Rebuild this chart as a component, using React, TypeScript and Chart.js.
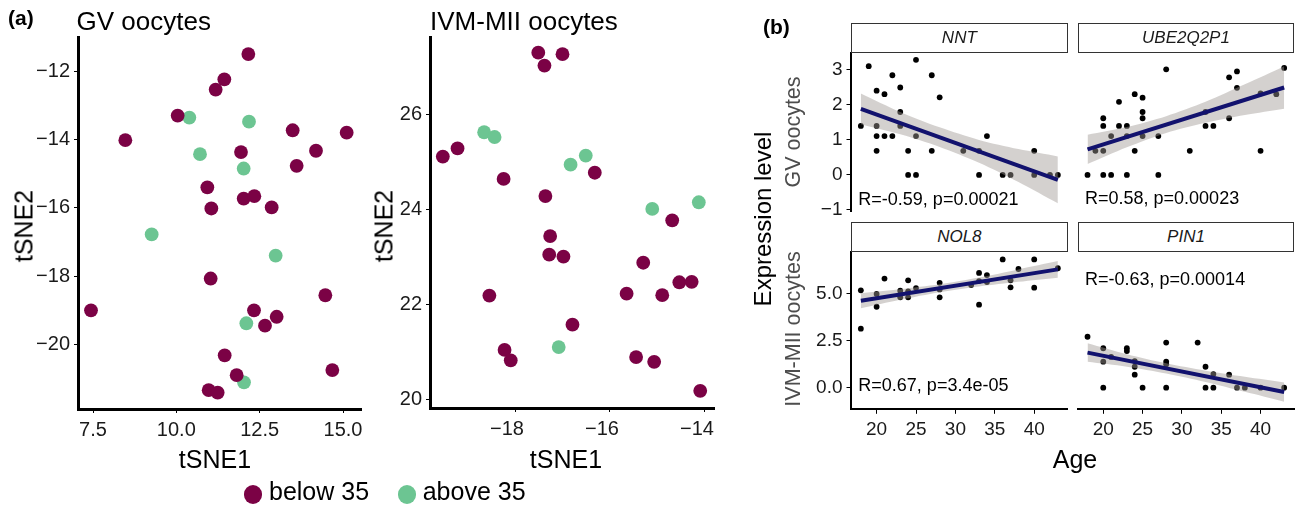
import React, { useEffect, useRef } from "react";
import { Chart, registerables } from "chart.js";
Chart.register(...registerables);

const W = 1298;
const H = 509;
const FONT = '"Liberation Sans", Arial, Helvetica, sans-serif';
const PURPLE = "#7B0245";
const GREEN = "#6CC592";
const NAVY = "#12126E";
const BAND = "rgba(160,152,148,0.45)";

// ---------- (a) tSNE data ----------
const gvBelowX = [12.16, 11.44, 11.18, 10.04, 13.49, 15.11, 8.47, 11.94, 14.19, 13.61, 10.93, 12.02, 12.34, 11.05, 12.86, 11.03, 7.44, 14.47, 12.33, 13.01, 12.66, 11.45, 14.68, 11.81, 10.97, 11.24];
const gvBelowY = [-11.5, -12.24, -12.54, -13.3, -13.73, -13.8, -14.02, -14.37, -14.33, -14.77, -15.4, -15.73, -15.66, -16.02, -15.99, -18.07, -19.0, -18.56, -19.0, -19.19, -19.45, -20.32, -20.75, -20.9, -21.34, -21.41];
const gvAboveX = [10.39, 12.18, 10.71, 12.02, 9.26, 12.98, 12.1, 12.03];
const gvAboveY = [-13.36, -13.48, -14.43, -14.85, -16.78, -17.4, -19.38, -21.11];

const ivmBelowX = [-17.51, -17.38, -17.0, -19.52, -19.21, -16.32, -18.24, -17.36, -14.69, -17.26, -17.28, -16.98, -15.3, -14.54, -14.28, -15.65, -14.9, -18.54, -16.79, -18.22, -18.09, -15.45, -15.07, -14.1];
const ivmBelowY = [27.29, 27.02, 27.26, 25.11, 25.28, 24.77, 24.64, 24.28, 23.77, 23.44, 23.05, 23.01, 22.88, 22.47, 22.48, 22.23, 22.2, 22.19, 21.58, 21.05, 20.83, 20.9, 20.8, 20.19];
const ivmAboveX = [-18.65, -18.43, -16.51, -16.83, -15.11, -14.13, -17.08];
const ivmAboveY = [25.62, 25.52, 25.13, 24.94, 24.01, 24.15, 21.11];

const gvXTicks = [7.5, 10, 12.5, 15];
const gvYTicks = [-20, -18, -16, -14, -12];
const ivmXTicks = [-18, -16, -14];
const ivmYTicks = [20, 22, 24, 26];

// ---------- (b) expression vs age ----------
const nntAge = [18, 19, 20, 20, 20, 20, 21, 21, 22, 22, 23, 23, 23, 24, 24, 25, 25, 25, 27, 27, 28, 31, 33, 33, 34, 36, 37, 40, 40, 42, 43];
const nntExpr = [1.4, 3.11, 2.41, 1.4, 1.11, 0.69, 2.31, 1.11, 2.85, 1.11, 2.5, 1.8, 1.4, 0.69, 0, 0, 3.29, 1.11, 2.85, 0.69, 2.22, 0.69, 0.69, 0, 1.11, 0, 0, 0.69, 0, 0, 0];

const ubeAge = [18, 19, 20, 20, 20, 20, 21, 21, 22, 22, 23, 23, 23, 24, 24, 25, 25, 25, 25, 27, 27, 28, 31, 33, 33, 34, 36, 36, 37, 37, 40, 40, 42, 43];
const ubeExpr = [0, 0.69, 1.62, 1.4, 0.69, 0, 1.11, 0, 2.09, 1.4, 1.4, 1.11, 0, 2.31, 0.69, 2.21, 1.8, 1.62, 1.11, 1.11, 0, 3.02, 0.69, 1.8, 1.4, 1.4, 2.79, 1.62, 2.96, 2.49, 2.33, 0.69, 2.31, 3.06];

const nolAge = [18, 18, 20, 20, 21, 23, 23, 24, 24, 24, 25, 28, 28, 28, 32, 33, 33, 33, 34, 34, 36, 37, 37, 38, 40, 40, 43];
const nolExpr = [5.16, 3.13, 4.97, 4.29, 5.78, 5.14, 4.79, 5.69, 4.79, 5.1, 5.28, 5.56, 5.21, 4.79, 5.44, 6.08, 4.4, 5.65, 5.97, 5.6, 6.8, 5.69, 5.32, 6.29, 6.8, 5.3, 6.33];

const pinAge = [18, 20, 20, 20, 21, 23, 23, 24, 24, 24, 25, 28, 28, 28, 28, 32, 33, 33, 34, 34, 36, 37, 38, 40, 43];
const pinExpr = [2.7, 2.09, 1.38, 0, 1.63, 2.09, 1.94, 1.41, 1.11, 0.69, 0, 2.39, 1.38, 1.24, 0, 2.39, 1.11, 0, 0.72, 0, 0.69, 0, 0, 0, 0];

const fitAges = [18, 43];
const nntFit = [1.89, -0.14];
const ubeFit = [0.73, 2.5];
const nolFit = [4.61, 6.27];
const pinFit = [1.86, -0.23];

const bandAges = [18, 23, 28, 33, 38, 43];
const nntLower = [1.45, 1.16, 0.8, 0.35, -0.2, -0.81];
const nntUpper = [2.33, 1.8, 1.36, 1.0, 0.74, 0.53];
const ubeLower = [0.31, 0.79, 1.2, 1.49, 1.71, 1.89];
const ubeUpper = [1.15, 1.37, 1.68, 2.09, 2.59, 3.11];
const nolLower = [4.21, 4.66, 5.06, 5.36, 5.61, 5.83];
const nolUpper = [5.01, 5.22, 5.48, 5.84, 6.27, 6.71];
const pinLower = [1.37, 1.11, 0.75, 0.3, -0.22, -0.74];
const pinUpper = [2.35, 1.77, 1.29, 0.9, 0.58, 0.28];

const ageTicks = [20, 25, 30, 35, 40];
const gvExprTicks = [-1, 0, 1, 2, 3];
const ivmExprTicks = [0, 2.5, 5];

const nntCor = "R=-0.59, p=0.00021";
const ubeCor = "R=0.58, p=0.00023";
const nolCor = "R=0.67, p=3.4e-05";
const pinCor = "R=-0.63, p=0.00014";

// ---------- helpers ----------
const pts = (xs: number[], ys: number[]) => xs.map((x, i) => ({ x, y: ys[i] }));
const minus = (s: string) => s.replace("-", "\u2212");
const fmtInt = (v: number) => minus(String(Math.round(v)));
const fmt1 = (v: number) => minus(v.toFixed(1));

type AxisSpec = {
  min: number; max: number; ticks: number[]; show: boolean; fmt: (v: number) => string;
  size: number; lw: number; tickLen: number; pad: number; fixed: number; labelOffset?: number;
};
type Area = { left: number; top: number; right: number; bottom: number };
type Label = { x: number; y: number; text: string; size: number };

function scaleOpts(a: AxisSpec) {
  return {
    type: "linear",
    min: a.min,
    max: a.max,
    display: a.show,
    afterBuildTicks: (s: any) => { s.ticks = a.ticks.map((v) => ({ value: v })); },
    afterFit: (s: any) => {
      if (!a.show) return;
      if (s.isHorizontal()) s.height = a.fixed; else s.width = a.fixed;
    },
    grid: { display: true, drawOnChartArea: false, drawTicks: true, tickLength: a.tickLen, tickWidth: 1, tickColor: "#000", color: "#000" },
    border: { display: true, color: "#000", width: a.lw },
    ticks: {
      autoSkip: false, maxRotation: 0, minRotation: 0, padding: a.pad, labelOffset: a.labelOffset ?? 0,
      color: "#1a1a1a", font: { family: FONT, size: a.size },
      callback: (v: any) => a.fmt(Number(v)),
    },
  };
}

function labelPlugin(labels: Label[]) {
  return {
    id: "corLabels",
    afterDatasetsDraw(chart: any) {
      const ctx = chart.ctx;
      const xs = chart.scales.x, ys = chart.scales.y;
      ctx.save();
      for (const l of labels) {
        ctx.font = `${l.size}px ${FONT}`;
        ctx.fillStyle = "#000";
        ctx.textAlign = "left";
        ctx.textBaseline = "alphabetic";
        ctx.fillText(l.text, xs.getPixelForValue(l.x), ys.getPixelForValue(l.y) + 0.358 * l.size);
      }
      ctx.restore();
    },
  };
}

type PanelProps = { area: Area; x: AxisSpec; y: AxisSpec; datasets: any[]; labels?: Label[] };

function Panel({ area, x, y, datasets, labels }: PanelProps) {
  const ref = useRef<HTMLCanvasElement | null>(null);
  useEffect(() => {
    if (!ref.current) return;
    const yW = y.show ? y.fixed : 0;
    const xH = x.show ? x.fixed : 0;
    const chart = new Chart(ref.current, {
      type: "scatter",
      data: { datasets },
      options: {
        animation: false,
        responsive: false,
        events: [],
        layout: { padding: { left: area.left - yW, top: area.top, right: W - area.right, bottom: H - area.bottom - xH } },
        plugins: { legend: { display: false }, tooltip: { enabled: false }, title: { display: false } },
        scales: { x: scaleOpts(x) as any, y: scaleOpts(y) as any },
      },
      plugins: labels ? [labelPlugin(labels)] : [],
    } as any);
    return () => chart.destroy();
  }, []);
  return (
    <canvas ref={ref} width={W} height={H}
      style={{ position: "absolute", left: 0, top: 0, width: W, height: H, pointerEvents: "none" }} />
  );
}

function tsneSets(bx: number[], by: number[], ax: number[], ay: number[]) {
  return [
    { data: pts(bx, by), backgroundColor: PURPLE, pointRadius: 6.9, pointBorderWidth: 0, order: 0, clip: false },
    { data: pts(ax, ay), backgroundColor: GREEN, pointRadius: 6.9, pointBorderWidth: 0, order: 1, clip: false },
  ];
}

function exprSets(age: number[], expr: number[], lower: number[], upper: number[], fit: number[]) {
  return [
    { data: pts(age, expr), backgroundColor: "#000", pointRadius: 2.9, pointBorderWidth: 0, order: 3, clip: false },
    { type: "line", data: pts(bandAges, lower), borderWidth: 0, pointRadius: 0, fill: false, tension: 0.3, order: 2 },
    { type: "line", data: pts(bandAges, upper), borderWidth: 0, pointRadius: 0, fill: "-1", backgroundColor: BAND, tension: 0.3, order: 1 },
    { type: "line", data: pts(fitAges, fit), borderColor: NAVY, borderWidth: 4, pointRadius: 0, fill: false, order: 0, borderCapStyle: "butt" },
  ];
}

function Txt({ x, y, size, children, rotate, bold, italic, color, anchor }: any) {
  if (rotate) {
    return (
      <div style={{
        position: "absolute", left: x, top: y, transform: "translate(-50%,-50%) rotate(-90deg)",
        fontFamily: FONT, fontSize: size, lineHeight: 1, whiteSpace: "nowrap", color: color || "#000",
      }}>{children}</div>
    );
  }
  const top = y - 0.8465 * size;
  const tr = anchor === "middle" ? "translateX(-50%)" : "none";
  return (
    <div style={{
      position: "absolute", left: x, top, transform: tr, fontFamily: FONT, fontSize: size, lineHeight: 1,
      whiteSpace: "nowrap", color: color || "#000", fontWeight: bold ? "bold" : "normal", fontStyle: italic ? "italic" : "normal",
    }}>{children}</div>
  );
}

function Strip({ left, top, right, bottom, text }: any) {
  return (
    <div style={{
      position: "absolute", left, top, width: right - left, height: bottom - top, boxSizing: "border-box",
      border: "1px solid #333", background: "#fff", display: "flex", alignItems: "center", justifyContent: "center",
      fontFamily: FONT, fontSize: 17, fontStyle: "italic", color: "#1a1a1a",
    }}>{text}</div>
  );
}

export default function App() {
  const common = { lw: 3, tickLen: 4 };
  const bAxis = { lw: 2, tickLen: 4.5 };
  return (
    <div style={{ position: "absolute", left: 0, top: 0, width: W, height: H, background: "#fff", overflow: "hidden" }}>
      {/* (a) GV tSNE */}
      <Panel
        area={{ left: 78, top: 37, right: 361, bottom: 409 }}
        x={{ min: 7.05, max: 15.54, ticks: gvXTicks, show: true, fmt: fmt1, size: 20, pad: 5, fixed: 40, ...common }}
        y={{ min: -21.89, max: -11.0, ticks: gvYTicks, show: true, fmt: fmtInt, size: 20, pad: 4, fixed: 78, ...common }}
        datasets={tsneSets(gvBelowX, gvBelowY, gvAboveX, gvAboveY)}
      />
      {/* (a) IVM tSNE */}
      <Panel
        area={{ left: 430, top: 37, right: 714, bottom: 408 }}
        x={{ min: -19.79, max: -13.81, ticks: ivmXTicks, show: true, fmt: fmtInt, size: 20, pad: 5, fixed: 40, labelOffset: -8, ...common }}
        y={{ min: 19.83, max: 27.62, ticks: ivmYTicks, show: true, fmt: fmtInt, size: 20, pad: 4, fixed: 50, ...common }}
        datasets={tsneSets(ivmBelowX, ivmBelowY, ivmAboveX, ivmAboveY)}
      />
      {/* (b) NNT */}
      <Panel
        area={{ left: 851, top: 52.7, right: 1067.7, bottom: 211 }}
        x={{ min: 16.75, max: 44.25, ticks: ageTicks, show: false, fmt: fmtInt, size: 19, pad: 5, fixed: 40, ...bAxis }}
        y={{ min: -1.03, max: 3.494, ticks: gvExprTicks, show: true, fmt: fmtInt, size: 19, pad: 4, fixed: 51, ...bAxis }}
        datasets={exprSets(nntAge, nntExpr, nntLower, nntUpper, nntFit)}
        labels={[{ x: 17.68, y: -0.686, text: nntCor, size: 18 }]}
      />
      {/* (b) UBE2Q2P1 */}
      <Panel
        area={{ left: 1077.7, top: 52.7, right: 1294.3, bottom: 211 }}
        x={{ min: 16.75, max: 44.25, ticks: ageTicks, show: false, fmt: fmtInt, size: 19, pad: 5, fixed: 40, ...bAxis }}
        y={{ min: -1.03, max: 3.494, ticks: gvExprTicks, show: false, fmt: fmtInt, size: 19, pad: 4, fixed: 51, ...bAxis }}
        datasets={exprSets(ubeAge, ubeExpr, ubeLower, ubeUpper, ubeFit)}
        labels={[{ x: 17.68, y: -0.65, text: ubeCor, size: 18 }]}
      />
      {/* (b) NOL8 */}
      <Panel
        area={{ left: 851, top: 252.3, right: 1067.7, bottom: 409.3 }}
        x={{ min: 16.75, max: 44.25, ticks: ageTicks, show: true, fmt: fmtInt, size: 19, pad: 5, fixed: 40, ...bAxis }}
        y={{ min: -1.145, max: 7.175, ticks: ivmExprTicks, show: true, fmt: fmt1, size: 19, pad: 4, fixed: 51, ...bAxis }}
        datasets={exprSets(nolAge, nolExpr, nolLower, nolUpper, nolFit)}
        labels={[{ x: 17.68, y: 0.14, text: nolCor, size: 18 }]}
      />
      {/* (b) PIN1 */}
      <Panel
        area={{ left: 1077.7, top: 252.3, right: 1294.3, bottom: 409.3 }}
        x={{ min: 16.75, max: 44.25, ticks: ageTicks, show: true, fmt: fmtInt, size: 19, pad: 5, fixed: 40, ...bAxis }}
        y={{ min: -1.145, max: 7.175, ticks: ivmExprTicks, show: false, fmt: fmt1, size: 19, pad: 4, fixed: 51, ...bAxis }}
        datasets={exprSets(pinAge, pinExpr, pinLower, pinUpper, pinFit)}
        labels={[{ x: 17.68, y: 5.8, text: pinCor, size: 18 }]}
      />

      {/* panel (a) texts */}
      <Txt x={8} y={25} size={21} bold>(a)</Txt>
      <Txt x={76.5} y={29.7} size={26}>GV oocytes</Txt>
      <Txt x={430} y={30} size={26}>IVM-MII oocytes</Txt>
      <Txt x={215} y={468.3} size={25} anchor="middle">tSNE1</Txt>
      <Txt x={566} y={468} size={25} anchor="middle">tSNE1</Txt>
      <Txt x={24} y={225.5} size={25} rotate>tSNE2</Txt>
      <Txt x={383.5} y={225.5} size={25} rotate>tSNE2</Txt>
      {/* legend */}
      <div style={{ position: "absolute", left: 243.5, top: 485, width: 18.5, height: 18.5, borderRadius: "50%", background: PURPLE }} />
      <Txt x={269} y={500} size={25}>below 35</Txt>
      <div style={{ position: "absolute", left: 397.5, top: 485, width: 18.5, height: 18.5, borderRadius: "50%", background: GREEN }} />
      <Txt x={422.7} y={500} size={25}>above 35</Txt>

      {/* panel (b) texts */}
      <Txt x={763} y={34} size={21} bold>(b)</Txt>
      <Strip left={851} top={22.7} right={1067.7} bottom={52.7} text="NNT" />
      <Strip left={1077.7} top={22.7} right={1294.3} bottom={52.7} text="UBE2Q2P1" />
      <Strip left={851} top={222.3} right={1067.7} bottom={252.3} text="NOL8" />
      <Strip left={1077.7} top={222.3} right={1294.3} bottom={252.3} text="PIN1" />
      <Txt x={762.5} y={219} size={24} rotate>Expression level</Txt>
      <Txt x={794} y={131.5} size={21.5} rotate color="#4d4d4d">GV oocytes</Txt>
      <Txt x={794} y={329} size={21.5} rotate color="#4d4d4d">IVM-MII oocytes</Txt>
      <Txt x={1075} y={468.3} size={25} anchor="middle">Age</Txt>
    </div>
  );
}
